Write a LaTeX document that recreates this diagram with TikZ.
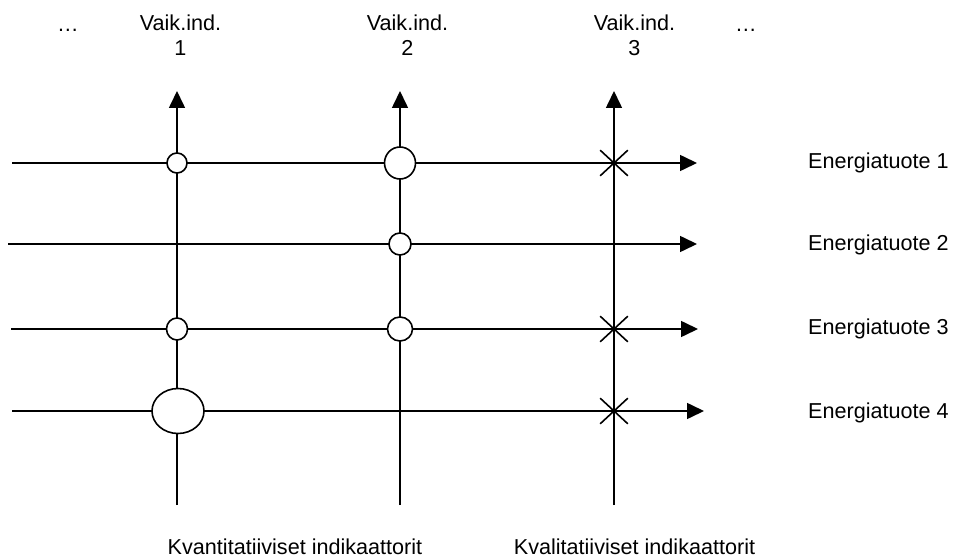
\documentclass[tikz,border=0pt]{standalone}
\usepackage{fontspec}
\setmainfont{Liberation Sans}
\usetikzlibrary{arrows.meta,shapes.geometric,shapes.misc}
\begin{document}
\begin{tikzpicture}[x=1pt,y=-1pt,
  axisline/.style={line width=1.6pt},
  arrowaxis/.style={line width=1.6pt, -{Triangle[length=17pt,width=16pt]}},
  ring/.style={ellipse, draw, line width=1.6pt, fill=white, inner sep=0pt},
  xmark/.style={cross out, draw, line width=1.6pt, inner sep=0pt,
                minimum width=26pt, minimum height=24pt},
  lbl/.style={font=\fontsize{21.6}{25}\selectfont, inner sep=0pt, anchor=base},
  prodlbl/.style={lbl, anchor=base west},
]
\useasboundingbox (0,0) rectangle (954,559);

% end points of the indicator axes (vertical)
\coordinate (v1b) at (177,505); \coordinate (v1t) at (177,91);
\coordinate (v2b) at (400,505); \coordinate (v2t) at (400,91);
\coordinate (v3b) at (614,505); \coordinate (v3t) at (614,91);

% end points of the product axes (horizontal)
\coordinate (h1l) at (12,163);  \coordinate (h1r) at (697,163);
\coordinate (h2l) at (8,244);   \coordinate (h2r) at (697,244);
\coordinate (h3l) at (11,329);  \coordinate (h3r) at (698,329);
\coordinate (h4l) at (12,411);  \coordinate (h4r) at (704,411);

% axes
\draw[arrowaxis] (v1b) -- (v1t);
\draw[arrowaxis] (v2b) -- (v2t);
\draw[arrowaxis] (v3b) -- (v3t);
\draw[arrowaxis] (h1l) -- (h1r);
\draw[arrowaxis] (h2l) -- (h2r);
\draw[arrowaxis] (h3l) -- (h3r);
\draw[arrowaxis] (h4l) -- (h4r);

% quantitative impacts (circles, size = magnitude)
\node[ring, minimum width=20pt, minimum height=20pt] (m11) at (177,163) {};
\node[ring, minimum width=31pt, minimum height=32pt] (m12) at (400,163) {};
\node[ring, minimum width=22pt, minimum height=22pt] (m22) at (400,244) {};
\node[ring, minimum width=21pt, minimum height=22pt] (m31) at (177,329) {};
\node[ring, minimum width=25pt, minimum height=24pt] (m32) at (400,329) {};
\node[ring, minimum width=52pt, minimum height=45pt] (m41) at (178,411) {};

% qualitative impacts (crosses)
\node[xmark] (x13) at (614,163) {};
\node[xmark] (x33) at (614,329) {};
\node[xmark] (x43) at (614,411) {};

% indicator headings
\node[lbl] (dotsl) at (68,32) {…};
\node[lbl] (vi1) at (180.5,31) {Vaik.ind.};
\node[lbl] (vn1) at (180.5,56) {1};
\node[lbl] (vi2) at (407.5,31) {Vaik.ind.};
\node[lbl] (vn2) at (407.5,56) {2};
\node[lbl] (vi3) at (634.5,31) {Vaik.ind.};
\node[lbl] (vn3) at (634.5,56) {3};
\node[lbl] (dotsr) at (746,32) {…};

% product labels
\node[prodlbl] (p1) at (808,169) {Energiatuote 1};
\node[prodlbl] (p2) at (808,251) {Energiatuote 2};
\node[prodlbl] (p3) at (808,334) {Energiatuote 3};
\node[prodlbl] (p4) at (808,418) {Energiatuote 4};

% group captions
\node[lbl] (quant) at (295,554) {Kvantitatiiviset indikaattorit};
\node[lbl] (qual) at (634.5,554) {Kvalitatiiviset indikaattorit};
\end{tikzpicture}
\end{document}
